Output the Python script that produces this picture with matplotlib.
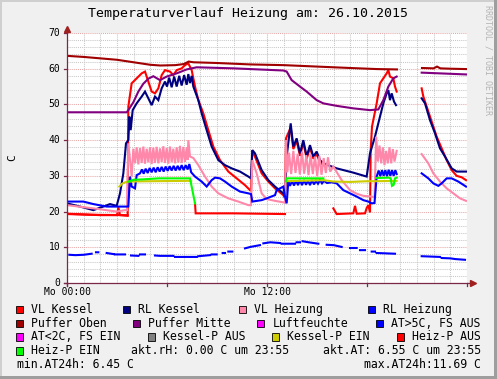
import numpy as np
import matplotlib
matplotlib.use("Agg")
import matplotlib.pyplot as plt
from matplotlib.patches import Rectangle

nan = np.nan

# ---------------- data (hours since Mo 00:00, values in C) ----------------
vl_kessel_h = [0, 1.0, 2.0, 3.0, 3.08, 3.18, 3.64, 3.68, 3.88, 4.18, 4.48, 4.68, 4.88, 5.08, 5.28,
               5.48, 5.68, 5.88, 6.18, 6.38, 6.58, 6.88, 7.08, 7.28, 7.48, 7.68, 7.88, 8.18, 8.48,
               8.78, 9.18, 9.68, 10.18, 10.68, 10.98, 11.04, 11.12, 11.68, 12.08, 12.48, 12.98,
               13.08, 13.14, 13.42, 13.58, 13.78, 13.98, 14.18, 14.38, 14.58, 14.78, 14.98, 15.18,
               15.38, nan, 15.98, 16.18, 17.18, 17.28, 17.38, 17.88, 17.98, 18.08, 18.18, 18.22,
               18.3, 18.58, 18.78, 18.98, 19.18, 19.28, 19.38, 19.58, 19.68, 19.78, nan, 21.28,
               21.38, 21.58, 21.88, 22.18, 22.48, 22.78, 23.08, 23.38, 23.68, 23.94]
vl_kessel_v = [19.4, 19.2, 19.0, 19.0, 21.2, 19.0, 18.8, 49.4, 55.9, 57.3, 58.7, 59.2, 56.4, 53.6, 53.1,
               54.5, 58.2, 59.6, 59.2, 58.2, 59.6, 60.1, 61.0, 61.5, 59.6, 55.0, 51.2, 47.5, 42.8,
               38.2, 34.4, 31.2, 29.3, 27.4, 26.0, 25.8, 37.2, 30.7, 28.4, 26.5, 24.6,
               23.7, 40.5, 43.5, 37.5, 39.8, 35.6, 39.3, 34.8, 37.9, 34.8, 36.1, 33.8,
               33.0, nan, 20.9, 19.3, 19.5, 21.6, 19.4, 19.5, 21.0, 21.8, 19.8, 37.0,
               43.8, 50.3, 55.9, 57.3, 58.7, 59.6, 57.8, 57.3, 55.0, 53.6, nan, 54.5,
               52.2, 49.4, 45.2, 41.0, 37.7, 34.4, 31.6, 30.0, 29.6, 28.8]

rl_kessel_h = [0, 0.78, 1.58, 2.18, 2.58, 2.98, 3.18, 3.38, 3.54, 3.68, 3.74, 3.82, 3.94, 4.18, 4.48,
               4.68, 4.88, 5.08, 5.28, 5.48, 5.68, 5.88, 6.0, 6.13, 6.28, 6.43, 6.58, 6.73, 6.88,
               7.03, 7.18, 7.28, 7.38, 7.48, 7.58, 7.88, 8.08, 8.38, 8.68, 9.08, 9.48, 9.88, 10.38,
               10.88, 11.04, 11.12, 11.28, 11.68, 12.08, 12.48, 12.98, 13.08, 13.18, 13.42, 13.58,
               13.78, 13.98, 14.18, 14.38, 14.58, 14.78, 14.98, 15.18, 15.38, 16.18, 17.18, 17.98,
               18.18, 18.48, 18.78, 18.98, 19.18, 19.28, 19.38, 19.48, 19.62, 19.74, nan, 21.28,
               21.48, 21.78, 22.08, 22.38, 22.68, 23.08, 23.38, 23.68, 23.94]
rl_kessel_v = [22.3, 21.4, 20.4, 21.4, 22.1, 21.6, 25.1, 30.7, 39.1, 40.0, 46.6, 42.8, 48.4, 50.3, 52.2,
               53.6, 51.7, 49.8, 52.2, 51.2, 54.5, 56.4, 55.0, 57.5, 54.8, 57.8, 55.0, 58.0, 55.3,
               58.2, 55.5, 58.5, 56.0, 58.0, 55.0, 51.2, 47.5, 42.8, 38.2, 34.4, 33.0, 32.1, 31.2,
               29.8, 29.3, 37.2, 36.3, 31.6, 28.8, 27.0, 25.1, 24.2, 35.4, 44.7, 38.2,
               40.5, 36.3, 40.0, 35.4, 38.6, 35.4, 36.8, 34.4, 33.5, 32.1, 30.9, 29.8,
               36.3, 41.0, 46.6, 50.3, 53.1, 54.0, 51.2, 53.1, 50.8, 49.8, nan, 51.7,
               50.3, 45.6, 41.9, 37.7, 35.4, 32.1, 31.2, 31.2, 31.2]

vl_heizung_h = [0, 1.58, 2.98, 3.48, 3.6, 3.68, 3.88, 3.98, 4.08, 4.18, 4.28, 4.38, 4.48, 4.58, 4.68,
                4.78, 4.88, 4.98, 5.08, 5.18, 5.28, 5.38, 5.48, 5.58, 5.68, 5.78, 5.88, 5.98, 6.08,
                6.18, 6.28, 6.38, 6.48, 6.58, 6.68, 6.78, 6.88, 6.98, 7.08, 7.18, 7.24, 7.28, 7.38,
                7.58, 7.88, 8.28, 8.68, 9.08, 9.68, 10.28, 10.88, 11.04, 11.12, 11.38, 11.68, 11.98,
                12.48, 13.08, 13.14, 13.22, 13.32, 13.45, 13.58, 13.71, 13.84, 13.97, 14.1, 14.23,
                14.36, 14.49, 14.62, 14.75, 14.88, 15.01, 15.14, 15.27, 15.4, 15.53, 15.66, 15.79,
                15.98, 16.48, 16.98, 17.38, 17.78, 18.28, 18.45, 18.55, 18.65, 18.75, 18.85, 18.95,
                19.05, 19.15, 19.25, 19.35, 19.45, 19.55, 19.65, 19.78, nan, 21.28, 21.68, 21.98,
                22.38, 22.78, 23.18, 23.58, 23.94]
vl_heizung_v = [21.8, 20.9, 20.0, 20.4, 20.4, 39.1, 29.8, 37.6, 33.5, 38.0, 33.2, 37.8, 33.6, 38.2, 33.4,
                37.6, 33.8, 38.0, 33.3, 37.9, 33.6, 38.1, 33.5, 37.7, 33.9, 38.3, 33.6, 37.8, 33.4,
                38.2, 33.8, 37.6, 33.5, 38.0, 33.7, 38.4, 33.6, 38.1, 33.9, 38.0, 34.5, 40.0, 35.4,
                35.0, 33.0, 29.8, 27.0, 25.1, 23.7, 22.8, 21.8, 21.8, 34.4, 30.7, 25.1, 23.5,
                23.0, 22.5, 40.0, 31.0, 36.5, 30.5, 37.0, 30.8, 36.2, 30.4, 36.8, 30.6,
                35.8, 30.2, 36.0, 30.5, 35.4, 30.0, 35.6, 30.3, 35.0, 30.8, 35.2, 31.2,
                32.6, 28.8, 26.0, 25.0, 24.4, 24.2, 24.0, 41.0, 34.0, 38.5, 33.5, 38.0,
                33.0, 37.0, 33.5, 38.0, 33.5, 37.5, 34.0, 37.0, nan, 36.1, 33.5, 30.7,
                28.4, 26.5, 25.1, 23.7, 23.0]

rl_heizung_h = [0, 0.98, 1.58, 2.38, 3.08, 3.68, 3.78, 3.88, 4.08, 4.18, 4.38, 4.5, 4.6, 4.72, 4.84,
                4.96, 5.08, 5.2, 5.32, 5.44, 5.56, 5.68, 5.8, 5.92, 6.04, 6.16, 6.28, 6.4, 6.52,
                6.64, 6.76, 6.88, 7.0, 7.12, 7.24, 7.34, 7.45, 7.68, 8.08, 8.38, 8.68, 8.88, 9.18,
                9.48, 9.88, 10.38, 10.88, 11.04, 11.12, 11.68, 11.98, 12.48, 12.58, 12.98, 13.08,
                13.18, 13.28, 13.38, 13.5, 13.62, 13.74, 13.86, 13.98, 14.1, 14.22, 14.34, 14.46,
                14.58, 14.7, 14.82, 14.94, 15.06, 15.18, 15.3, 15.42, 15.6, 15.88, 16.18, 16.58,
                16.98, 17.38, 17.78, 18.08, 18.28, 18.45, 18.58, 18.7, 18.8, 18.9, 19.0, 19.1, 19.2,
                19.3, 19.4, 19.5, 19.6, 19.7, 19.78, nan, 21.28, 21.68, 21.98, 22.28, 22.48, 22.78,
                23.08, 23.48, 23.94]
rl_heizung_v = [22.8, 22.8, 22.1, 21.4, 21.4, 21.4, 29.8, 27.0, 26.5, 30.2, 30.7, 31.8, 30.6, 32.0, 30.8,
                32.2, 31.0, 32.3, 31.0, 32.4, 31.2, 32.5, 31.2, 32.6, 31.4, 32.7, 31.5, 32.8, 31.5,
                32.8, 31.6, 33.0, 31.6, 33.0, 31.8, 33.3, 31.0, 29.8, 28.4, 27.0, 28.8, 29.5, 29.3,
                28.4, 27.0, 25.6, 25.1, 24.9, 22.8, 23.2, 23.7, 24.6, 26.0, 27.0, 24.2,
                22.3, 28.4, 27.2, 28.6, 27.3, 28.7, 27.4, 28.8, 27.4, 28.8, 27.5, 28.7,
                27.4, 28.8, 27.6, 28.6, 27.8, 28.8, 27.9, 28.6, 28.0, 28.2, 27.9, 26.0,
                25.1, 24.2, 23.2, 22.8, 22.3, 22.4, 29.8, 31.5, 29.9, 31.6, 30.0, 31.6, 29.9,
                31.7, 30.0, 31.6, 30.0, 31.6, 30.5, nan, 30.7, 29.3, 27.9, 27.2, 27.9, 29.3,
                29.3, 28.4, 27.0]

puffer_oben_h = [0, 1.0, 2.0, 3.0, 4.0, 5.0, 5.6, 6.5, 7.0, 7.3, 7.6, 9.0, 11.0, 13.0, 15.0, 17.0,
                 18.6, 19.8, nan, 21.3, 22.0, 22.2, 22.4, 23.0, 23.94]
puffer_oben_v = [63.6, 63.3, 62.9, 62.5, 61.8, 61.1, 60.9, 61.0, 61.3, 62.0, 61.8, 61.6, 61.2, 61.0,
                 60.6, 60.2, 59.9, 59.8, nan, 60.2, 60.1, 60.6, 60.1, 60.0, 59.9]

puffer_mitte_h = [0, 3.58, 3.68, 3.98, 4.28, 4.58, 4.88, 5.18, 5.58, 5.98, 6.58, 7.18, 7.78, 10.0,
                  12.98, 13.18, 13.48, 13.98, 14.38, 14.98, 15.38, 16.18, 17.18, 18.18, 18.68,
                  18.98, 19.28, 19.58, 19.78, nan, 21.28, 23.94]
puffer_mitte_v = [47.8, 47.8, 48.4, 50.6, 53.6, 55.8, 57.2, 57.9, 56.8, 57.8, 58.7, 59.8, 60.4, 60.1,
                  59.5, 59.2, 56.8, 55.0, 53.6, 51.2, 50.3, 49.6, 48.9, 48.4, 48.6,
                  51.2, 55.0, 57.3, 57.8, nan, 58.9, 58.4]

at_h = [0.14, 0.5, 1.0, 1.48, nan, 1.74, 1.88, nan, 2.38, 2.78, nan, 2.88, 3.48, nan, 3.84, 4.28,
        nan, 4.38, 4.68, nan, 5.28, 5.58, 6.38, nan, 6.48, 7.78, nan, 7.88, 8.58, nan, 8.68, 8.98,
        nan, 9.34, 9.48, nan, 9.68, 9.92, nan, 10.68, 11.0, 11.58, nan, 11.78, 12.2, 12.78, nan,
        12.88, 13.68, nan, 13.78, 13.98, nan, 14.14, 14.5, 15.08, nan, 15.58, 16.0, 16.48, nan,
        16.98, 17.38, nan, 17.58, 17.88, nan, 18.28, 18.48, nan, 18.58, 19.68, nan, 21.28, 22.38,
        nan, 22.48, 23.0, 23.3, 23.88]
at_v = [7.9, 7.8, 7.9, 8.2, nan, 8.6, 8.6, nan, 8.4, 8.1, nan, 8.0, 8.0, nan, 7.7, 7.6,
        nan, 8.0, 8.0, nan, 7.7, 7.6, 7.6, nan, 7.3, 7.3, nan, 7.5, 7.8, nan, 8.0, 8.0,
        nan, 8.4, 8.4, nan, 8.8, 8.8, nan, 9.7, 10.1, 10.6, nan, 11.1, 11.4, 11.2, nan,
        11.0, 11.0, nan, 11.4, 11.4, nan, 11.69, 11.4, 11.0, nan, 10.7, 10.6, 10.1, nan,
        9.8, 9.8, nan, 9.2, 9.2, nan, 8.8, 8.8, nan, 8.4, 8.2, nan, 7.5, 7.3,
        nan, 7.0, 6.9, 6.7, 6.5]

kessel_p_ein_h = [3.14, 3.3, 3.5, 3.68, 5.0, 7.3, 7.45, nan, 13.14, 15.38, 16.0, 17.0, 18.0, 18.5, 19.78]
kessel_p_ein_v = [27.0, 27.8, 28.2, 28.4, 28.5, 28.6, 28.5, nan, 28.5, 28.8, 28.4, 28.3, 28.5, 28.5, 28.6]

heiz_p_aus_h = [0, 1.5, 3.64, nan, 7.68, 7.72, 10.0, 13.08]
heiz_p_aus_v = [19.3, 19.1, 19.0, nan, 22.3, 19.5, 19.5, 19.3]

heiz_p_ein_h = [3.68, 4.0, 4.5, 5.5, 7.38, 7.68, nan, 13.14, 13.18, 15.38, nan, 18.55, 19.3, 19.42,
                19.5, 19.6, 19.68, 19.78]
heiz_p_ein_v = [28.4, 28.9, 29.0, 29.3, 29.3, 22.3, nan, 28.5, 29.3, 29.3, nan, 29.4, 29.5, 29.3,
                27.2, 27.5, 29.3, 29.5]

y_ticks = [0, 10, 20, 30, 40, 50, 60, 70]
x_tick_hours = [0, 12]
x_tick_labels = ["Mo 00:00", "Mo 12:00"]

title = "Temperaturverlauf Heizung am: 26.10.2015"

legend_rows = [
    [(30.7, "VL Kessel", "#FF0000"), (138.3, "RL Kessel", "#000080"),
     (254.3, "VL Heizung", "#FF88AA"), (383.3, "RL Heizung", "#0000FF")],
    [(30.7, "Puffer Oben", "#A00000"), (148.3, "Puffer Mitte", "#800080"),
     (272.3, "Luftfeuchte", "#FF00FF"), (390.7, "AT>5C, FS AUS", "#0000FF")],
    [(30.7, "AT<2C, FS EIN", "#FF00FF"), (162.7, "Kessel-P AUS", "#808080"),
     (286.7, "Kessel-P EIN", "#CCCC00"), (411.7, "Heiz-P AUS", "#FF0000")],
    [(30.7, "Heiz-P EIN", "#00FF00")],
]

# ---------------- figure ----------------
W, H = 497, 379
MONO = "DejaVu Sans Mono"
fig = plt.figure(figsize=(W / 100, H / 100), dpi=100)
fig.patch.set_facecolor("#F0F0F0")

# pixel overlay for frame, texts and legend
ov = fig.add_axes([0, 0, 1, 1], zorder=0)
ov.set_xlim(0, W)
ov.set_ylim(H, 0)
ov.axis("off")
ov.add_patch(Rectangle((0, 0), 2, H, color="#CFCFCF", lw=0))
ov.add_patch(Rectangle((0, 0), W, 2, color="#CFCFCF", lw=0))
ov.add_patch(Rectangle((W - 3, 0), 3, H, color="#9E9E9E", lw=0))
ov.add_patch(Rectangle((0, H - 3), W, 3, color="#9E9E9E", lw=0))

L, R, T, B = 67, 467, 33, 283
ax = fig.add_axes([L / W, (H - B) / H, (R - L) / W, (B - T) / H], zorder=1)
ax.set_xlim(0, 24)
ax.set_ylim(0, 70)
ax.set_facecolor("white")
for s in ax.spines.values():
    s.set_visible(False)
ax.set_xticks([])
ax.set_yticks([])

minor_c = "#C8C8C8"
major_c = "#E8A8A8"
for hx in range(1, 25):
    if hx % 6:
        ax.axvline(hx, color=minor_c, lw=0.75, ls=(0, (1, 1)), zorder=0)
for vy in range(2, 71, 2):
    if vy % 10:
        ax.axhline(vy, color=minor_c, lw=0.75, ls=(0, (1, 1)), zorder=0)
for hx in range(6, 25, 6):
    ax.axvline(hx, color=major_c, lw=0.75, ls=(0, (1, 1)), zorder=0.5)
for vy in range(10, 71, 10):
    ax.axhline(vy, color=major_c, lw=0.75, ls=(0, (1, 1)), zorder=0.5)

lw = 1.5
series = [
    (vl_kessel_h, vl_kessel_v, "#FF0000"),
    (rl_kessel_h, rl_kessel_v, "#000080"),
    (vl_heizung_h, vl_heizung_v, "#FF88AA"),
    (rl_heizung_h, rl_heizung_v, "#0000FF"),
    (puffer_oben_h, puffer_oben_v, "#A00000"),
    (puffer_mitte_h, puffer_mitte_v, "#800080"),
    (at_h, at_v, "#0000FF"),
    (kessel_p_ein_h, kessel_p_ein_v, "#CCCC00"),
    (heiz_p_aus_h, heiz_p_aus_v, "#FF0000"),
    (heiz_p_ein_h, heiz_p_ein_v, "#00FF00"),
]
for i, (hh, vv, c) in enumerate(series):
    ax.plot(hh, vv, color=c, lw=lw, zorder=2 + i * 0.01, solid_joinstyle="miter")

# axes with arrows
axis_c = "#7A2848"
ax.plot([0, 0], [-0.9, 70.9], color=axis_c, lw=0.9, clip_on=False, zorder=5)
ax.plot([-0.2, 24.25], [0, 0], color=axis_c, lw=0.9, clip_on=False, zorder=5)
ax.plot([0], [71.1], marker="^", ms=4.2, color="#A02020", mec="#A02020", clip_on=False, zorder=6)
ax.plot([24.35], [0], marker=">", ms=4.2, color="#A02020", mec="#A02020", clip_on=False, zorder=6)
for hx in range(0, 25, 6):
    ax.plot([hx, hx], [0, -0.9], color=axis_c, lw=0.9, clip_on=False, zorder=5)
for vy in y_ticks:
    ax.plot([-0.18, 0], [vy, vy], color=axis_c, lw=0.9, clip_on=False, zorder=5)

# tick labels
for vy in y_ticks:
    ov.text(60.5, B - vy * (B - T) / 70, str(vy), family=MONO, fontsize=7,
            ha="right", va="center")
for hx, lab in zip(x_tick_hours, x_tick_labels):
    ov.text(L + hx * (R - L) / 24 + 1, 292, lab, family=MONO, fontsize=7,
            ha="center", va="center")

ov.text(248, 14, title, family=MONO, fontsize=9.5, ha="center", va="center")
ov.text(12, 158, "C", family=MONO, fontsize=8, rotation=90, ha="center", va="center")
ov.text(488, 5, "RRDTOOL / TOBI OETIKER", family=MONO, fontsize=6, rotation=-90,
        ha="center", va="top", color="#B4B4B4")

row_y = [309.5, 323.2, 337.0, 351.0, 365.0]
for ry, row in zip(row_y, legend_rows):
    for tx, lab, col in row:
        ov.add_patch(Rectangle((tx - 15, ry - 3.6), 7, 7.2, facecolor=col,
                               edgecolor="black", lw=0.6))
        ov.text(tx, ry, lab, family=MONO, fontsize=8.3, ha="left", va="center")
ov.text(131, row_y[3], "akt.rH: 0.00 C um 23:55", family=MONO, fontsize=8.3,
        ha="left", va="center")
ov.text(481, row_y[3], "akt.AT: 6.55 C um 23:55", family=MONO, fontsize=8.3,
        ha="right", va="center")
ov.text(16.7, row_y[4], "min.AT24h: 6.45 C", family=MONO, fontsize=8.3,
        ha="left", va="center")
ov.text(481, row_y[4], "max.AT24h:11.69 C", family=MONO, fontsize=8.3,
        ha="right", va="center")

fig.savefig("out.png", dpi=100, facecolor=fig.get_facecolor())
